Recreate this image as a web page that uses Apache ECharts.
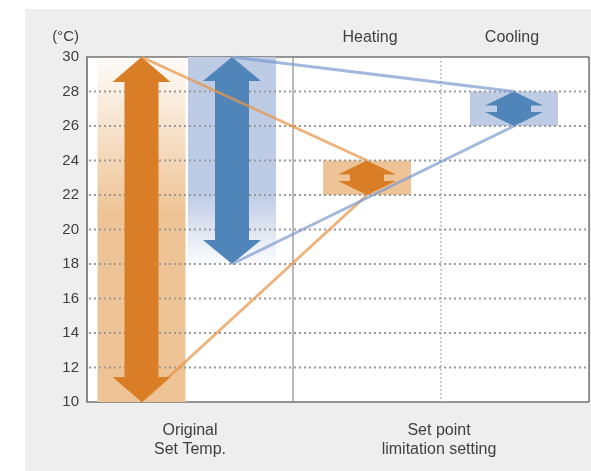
<!DOCTYPE html>
<html>
<head>
<meta charset="utf-8">
<title>Set point limitation</title>
<script src="https://cdn.jsdelivr.net/npm/echarts@6/dist/echarts.min.js"></script>
<style>
html,body{margin:0;padding:0;background:#fff;}
#chart{width:591px;height:471px;background:linear-gradient(#eeeeee,#eeeeee) no-repeat 25px 9px/566px 462px,#fff;}
</style>
</head>
<body>
<div id="chart"></div>
<script>
// temperature ranges (deg C) per column
var columns   = ['Original heating', 'Original cooling', 'Heating limit', 'Cooling limit'];
var lowTemps  = [10, 18, 22, 26];
var highTemps = [30, 30, 24, 28];
// original range -> limited range
var links = [[0, 2], [1, 3]];
var yTicks = [10, 12, 14, 16, 18, 20, 22, 24, 26, 28, 30];
var topLabels = ['Heating', 'Cooling'];
var bottomLabels = ['Original\nSet Temp.', 'Set point\nlimitation setting'];

// layout: x axis runs 0..502 across the plot
var colX = [54.5, 145, 280, 427];
var bandW = 88;
var dividerX = 206, dottedX = 354;
var headH = [25, 24, 14, 14];
var headHalf = 29, shaftHalf = 17;

var ORANGE = '#D97E27', ORANGE_BAND = '#EEC496';
var BLUE = '#4F85B9', BLUE_BAND = '#BECBE4';
var arrowColor = [ORANGE, BLUE, ORANGE, BLUE];
var lineColor = ['rgba(232,149,74,0.72)', 'rgba(126,157,208,0.72)'];

var bandFill = [
  new echarts.graphic.LinearGradient(0, 0, 0, 1, [
    {offset: 0, color: 'rgba(238,196,150,0.06)'},
    {offset: 0.45, color: ORANGE_BAND},
    {offset: 1, color: ORANGE_BAND}
  ]),
  new echarts.graphic.LinearGradient(0, 0, 0, 1, [
    {offset: 0, color: BLUE_BAND},
    {offset: 0.66, color: BLUE_BAND},
    {offset: 1, color: 'rgba(190,203,228,0.05)'}
  ]),
  ORANGE_BAND,
  BLUE_BAND
];

var colData = columns.map(function (c, i) {
  return [colX[i], lowTemps[i], highTemps[i]];
});

function renderBand(params, api) {
  var i = params.dataIndex;
  var p1 = api.coord([api.value(0) - bandW / 2, api.value(2)]);
  var p2 = api.coord([api.value(0) + bandW / 2, api.value(1)]);
  return {
    type: 'rect',
    shape: {x: p1[0], y: p1[1], width: p2[0] - p1[0], height: p2[1] - p1[1]},
    style: {fill: bandFill[i]}
  };
}

function renderArrow(params, api) {
  var i = params.dataIndex;
  var top = api.coord([api.value(0), api.value(2)]);
  var bot = api.coord([api.value(0), api.value(1)]);
  var cx = top[0], yt = top[1], yb = bot[1], h = headH[i];
  return {
    type: 'polygon',
    shape: {points: [
      [cx, yt], [cx + headHalf, yt + h], [cx + shaftHalf, yt + h],
      [cx + shaftHalf, yb - h], [cx + headHalf, yb - h], [cx, yb],
      [cx - headHalf, yb - h], [cx - shaftHalf, yb - h],
      [cx - shaftHalf, yt + h], [cx - headHalf, yt + h]
    ]},
    style: {fill: arrowColor[i]}
  };
}

function renderGridLine(params, api) {
  var cs = params.coordSys;
  var y = api.coord([0, api.value(0)])[1];
  return {
    type: 'line',
    shape: {x1: cs.x + 2, y1: y, x2: cs.x + cs.width, y2: y},
    style: {stroke: '#999', lineWidth: 2, lineDash: [2, 3]}
  };
}

function renderDivider(params, api) {
  var cs = params.coordSys;
  var x = api.coord([api.value(0), 10])[0];
  var dotted = params.dataIndex === 1;
  return {
    type: 'line',
    shape: {x1: x, y1: cs.y, x2: x, y2: cs.y + cs.height},
    style: dotted ? {stroke: '#aaa', lineWidth: 1.5, lineDash: [1.5, 2.5]}
                  : {stroke: '#777', lineWidth: 1}
  };
}

var series = [
  {type: 'custom', name: 'bands', z: 1, silent: true, renderItem: renderBand, data: colData},
  {type: 'custom', name: 'dividers', z: 1.2, silent: true, renderItem: renderDivider,
   data: [[dividerX], [dottedX]]},
  {type: 'custom', name: 'grid', z: 1.5, silent: true, renderItem: renderGridLine,
   data: yTicks.slice(1, -1).map(function (v) { return [v]; })},
  {type: 'custom', name: 'arrows', z: 3, silent: true, renderItem: renderArrow, data: colData}
];

links.forEach(function (l, k) {
  [highTemps, lowTemps].forEach(function (arr, j) {
    series.push({
      // the lower orange link starts inside the big arrow head, so keep it underneath
      type: 'line', z: (k === 0 && j === 1) ? 2.5 : 4, silent: true, symbol: 'none',
      lineStyle: {color: lineColor[k], width: 3},
      data: [[colX[l[0]], arr[l[0]]], [colX[l[1]], arr[l[1]]]]
    });
  });
});

var FONT = 'Liberation Sans, Arial, sans-serif';
function label(text, x, y, align, vAlign, size) {
  return {
    type: 'text', x: x, y: y, silent: true,
    style: {text: text, align: align, verticalAlign: vAlign, lineHeight: 19,
            fontFamily: FONT, fontSize: size, fill: '#404040'}
  };
}

var chart = echarts.init(document.getElementById('chart'));
chart.setOption({
  animation: false,
  grid: {left: 87, right: 2, top: 57, bottom: 69, show: true, backgroundColor: '#fff',
         borderColor: '#333', borderWidth: 1},
  xAxis: {type: 'value', min: 0, max: 502, show: false},
  yAxis: {
    type: 'value', min: 10, max: 30, interval: 2,
    splitLine: {show: false},
    axisTick: {show: false},
    axisLine: {show: true, lineStyle: {color: '#888', width: 2}},
    axisLabel: {fontSize: 15, color: '#404040', margin: 8, fontFamily: FONT}
  },
  graphic: [
    label('(°C)', 79, 37, 'right', 'middle', 15),
    label(topLabels[0], 370, 38, 'center', 'middle', 16),
    label(topLabels[1], 512, 38, 'center', 'middle', 16),
    label(bottomLabels[0], 190, 421, 'center', 'top', 16),
    label(bottomLabels[1], 439, 421, 'center', 'top', 16)
  ],
  series: series
});
</script>
</body>
</html>
